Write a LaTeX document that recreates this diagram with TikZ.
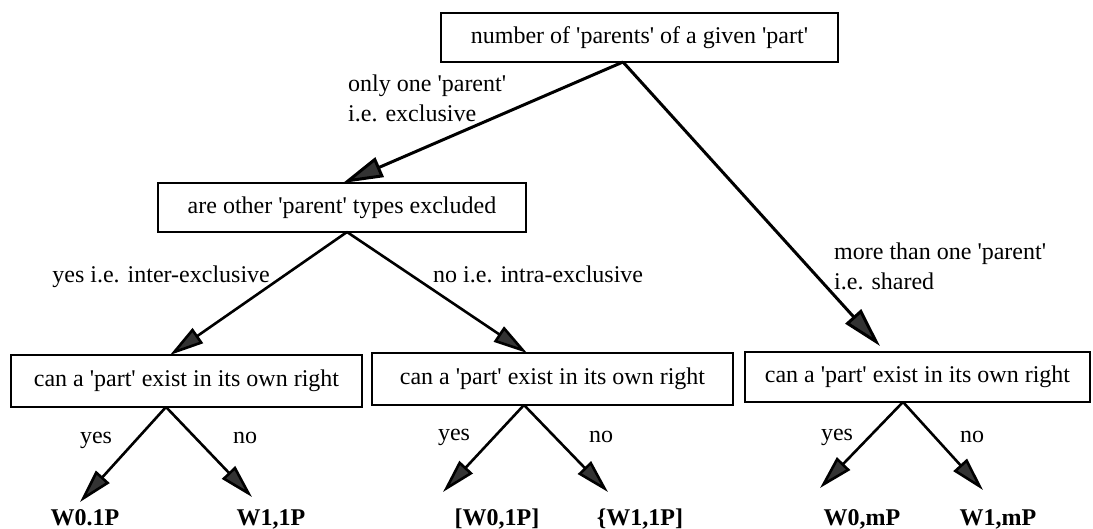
\documentclass[tikz,border=0pt]{standalone}
\usepackage{fontspec}
\setmainfont{Liberation Serif}
\usetikzlibrary{arrows.meta}
\newcommand{\tq}{\textquotesingle}
\begin{document}
\begin{tikzpicture}[x=1pt,y=-1pt,
  qbox/.style={draw,line width=1.8pt,inner sep=0pt,font=\fontsize{24}{28}\selectfont},
  lbl/.style={inner sep=0pt,font=\fontsize{24}{30}\selectfont},
  leaf/.style={inner sep=0pt,anchor=base,font=\fontsize{24}{28}\selectfont\bfseries},
  bigarrow/.style={line width=3pt,-{Triangle[length=40pt,width=21pt,fill=black!80]}},
  arrow/.style={line width=2.6pt,-{Triangle[length=34pt,width=18pt,fill=black!80]}}]
\useasboundingbox (0,0) rectangle (1093,529);

% question boxes
\node[qbox,minimum width=397pt,minimum height=49pt] (q0) at (639.5,37.5) {number of \tq parents\tq\ of a given \tq part\tq};
\node[qbox,minimum width=368pt,minimum height=49pt] (q1) at (342,207.5) {are other \tq parent\tq\ types excluded};
\node[qbox,minimum width=351pt,minimum height=52pt] (q2) at (186.5,381) {can a \tq part\tq\ exist in its own right};
\node[qbox,minimum width=361pt,minimum height=52pt] (q3) at (552.5,379) {can a \tq part\tq\ exist in its own right};
\node[qbox,minimum width=345pt,minimum height=50pt] (q4) at (917.5,377) {can a \tq part\tq\ exist in its own right};

% arrow end points on the box edges
\coordinate (v0) at (623,62);
\coordinate (v1) at (347,232);
\coordinate (v2) at (166,407);
\coordinate (v3) at (524,405);
\coordinate (v4) at (903,402);
\coordinate (t1) at (343,183);
\coordinate (t2) at (170,355);
\coordinate (t3) at (527,353);
\coordinate (t4) at (880,346);

% leaves
\node[leaf] (l1) at (85,525) {W0.1P};
\node[leaf] (l2) at (271,525) {W1,1P};
\node[leaf] (l3) at (497,525) {[W0,1P]};
\node[leaf] (l4) at (640,525) {\{W1,1P]};
\node[leaf] (l5) at (862,525) {W0,mP};
\node[leaf] (l6) at (998,525) {W1,mP};

\coordinate (e1) at (80,502);
\coordinate (e2) at (252,497);
\coordinate (e3) at (443,492);
\coordinate (e4) at (608,492);
\coordinate (e5) at (820,488);
\coordinate (e6) at (983,490);

% connectors
\draw[bigarrow] (v0) -- (t1);
\draw[bigarrow] (v0) -- (t4);
\draw[arrow] (v1) -- (t2);
\draw[arrow] (v1) -- (t3);
\draw[arrow] (v2) -- (e1);
\draw[arrow] (v2) -- (e2);
\draw[arrow] (v3) -- (e3);
\draw[arrow] (v3) -- (e4);
\draw[arrow] (v4) -- (e5);
\draw[arrow] (v4) -- (e6);

% connector labels
\node[lbl,align=left,anchor=north west] (a1) at (348,75) {only one \tq parent\tq\\i.e. exclusive};
\node[lbl,align=left,anchor=north west] (a2) at (834,243) {more than one \tq parent\tq\\i.e. shared};
\node[lbl,anchor=base east] (a3) at (270,283) {yes i.e. inter-exclusive};
\node[lbl,anchor=base west] (a4) at (433,283) {no i.e. intra-exclusive};
\node[lbl] (y1) at (96,440) {yes};
\node[lbl] (n1) at (245,438) {no};
\node[lbl] (y2) at (454,437) {yes};
\node[lbl] (n2) at (601,437) {no};
\node[lbl] (y3) at (837,437) {yes};
\node[lbl] (n3) at (972,437) {no};
\end{tikzpicture}
\end{document}
